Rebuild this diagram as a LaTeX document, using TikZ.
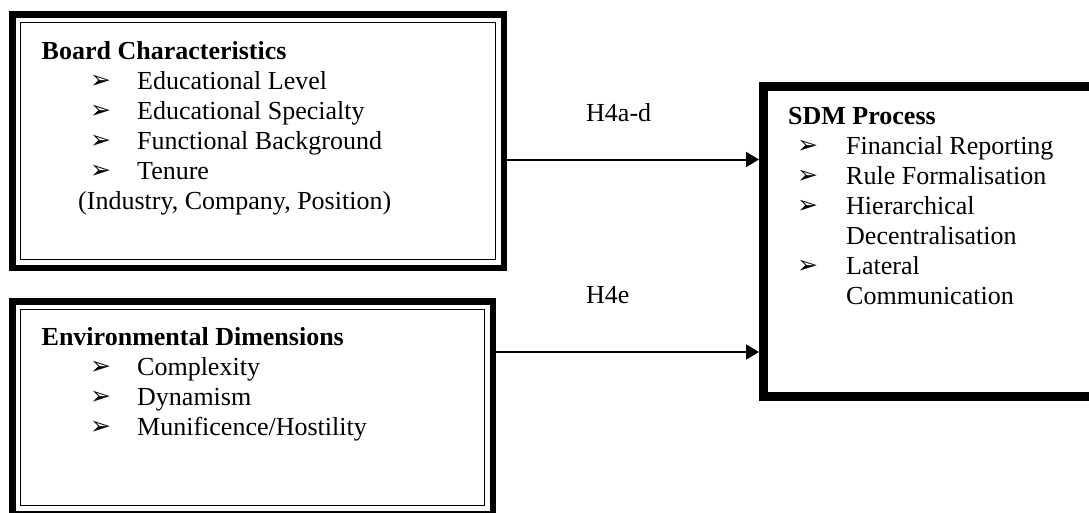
\documentclass[tikz,border=0pt]{standalone}
\usepackage{fontspec}
\setmainfont{Liberation Serif}
\newfontfamily\symfont{DejaVu Sans}
\usetikzlibrary{arrows.meta}
\begin{document}
\begin{tikzpicture}[x=1pt,y=1pt,
  txt/.style={anchor=base west, inner sep=0pt, font=\fontsize{26}{30}\selectfont},
  hd/.style={anchor=base west, inner sep=0pt, font=\fontsize{26}{30}\selectfont\bfseries},
  bul/.style={anchor=base west, inner sep=0pt, font=\symfont\fontsize{25}{26}\selectfont},
  outerbox/.style={draw, line width=6.5pt, anchor=north west, inner sep=0pt},
  sdmbox/.style={draw, line width=9pt, anchor=north west, inner sep=0pt},
  innerline/.style={line width=1.6pt},
  arr/.style={line width=2pt, -{Triangle[length=13pt,width=15pt]}}
]
\useasboundingbox (0,0) rectangle (1089,-512);
\clip (0,0) rectangle (1089,-512);

% boxes
\node[outerbox, minimum width=491.5pt, minimum height=253.5pt] (b1) at (9,-11) {};
\draw[innerline] ([shift={(11.5pt,-11.5pt)}]b1.north west) rectangle ([shift={(-11.5pt,11.5pt)}]b1.south east);
\node[outerbox, minimum width=480.5pt, minimum height=212.5pt] (b2) at (9,-298) {};
\draw[innerline] ([shift={(11.5pt,-11.5pt)}]b2.north west) rectangle ([shift={(-11.5pt,11.5pt)}]b2.south east);
\node[sdmbox, minimum width=332pt, minimum height=310pt] (sdm) at (759,-82) {};

% box 1 text
\node[hd] (t1) at (41.5,-59) {Board Characteristics};
\node[bul] (p11) at (90,-88) {➢};
\node[txt] (t11) at (137,-89) {Educational Level};
\node[bul] (p12) at (90,-118) {➢};
\node[txt] (t12) at (137,-119) {Educational Specialty};
\node[bul] (p13) at (90,-148) {➢};
\node[txt] (t13) at (137,-149) {Functional Background};
\node[bul] (p14) at (90,-178) {➢};
\node[txt] (t14) at (137,-179) {Tenure};
\node[txt] (t15) at (78,-209) {(Industry, Company, Position)};

% box 2 text
\node[hd] (t2) at (41.5,-345) {Environmental Dimensions};
\node[bul] (p21) at (90,-374) {➢};
\node[txt] (t21) at (137,-375) {Complexity};
\node[bul] (p22) at (90,-404) {➢};
\node[txt] (t22) at (137,-405) {Dynamism};
\node[bul] (p23) at (90,-434) {➢};
\node[txt] (t23) at (137,-435) {Munificence/Hostility};

% SDM text
\node[hd] (t3) at (788,-124) {SDM Process};
\node[bul] (p31) at (797,-153) {➢};
\node[txt] (t31) at (846,-154) {Financial Reporting};
\node[bul] (p32) at (797,-183) {➢};
\node[txt] (t32) at (846,-184) {Rule Formalisation};
\node[bul] (p33) at (797,-213) {➢};
\node[txt] (t33) at (846,-214) {Hierarchical};
\node[txt] (t34) at (846,-244) {Decentralisation};
\node[bul] (p35) at (797,-273) {➢};
\node[txt] (t35) at (846,-274) {Lateral};
\node[txt] (t36) at (846,-304) {Communication};

% arrows
\coordinate (a1) at (0,-159.5);
\coordinate (a2) at (0,-352);
\draw[arr] (b1.east |- a1) -- (sdm.west |- a1);
\draw[arr] (b2.east |- a2) -- (sdm.west |- a2);
\node[txt] (l1) at (586,-121) {H4a-d};
\node[txt] (l2) at (586,-303) {H4e};
\end{tikzpicture}
\end{document}
